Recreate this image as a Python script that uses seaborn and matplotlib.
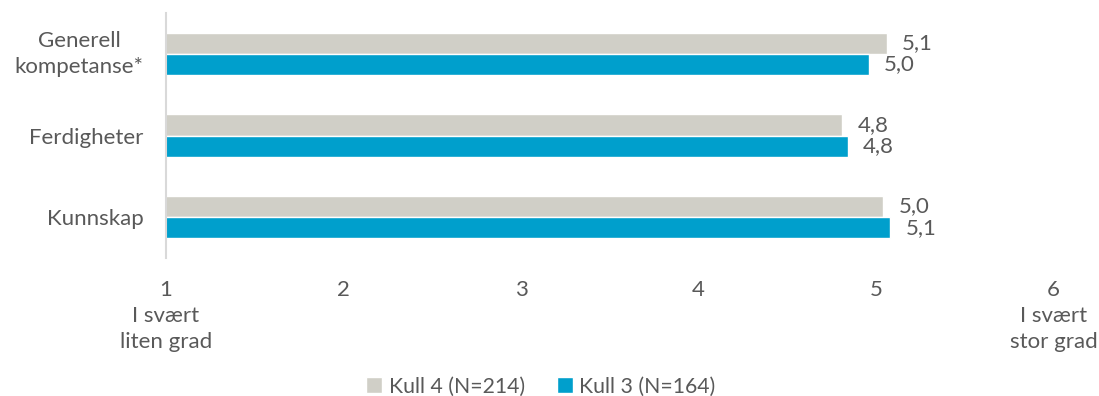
import matplotlib
matplotlib.use("Agg")
import matplotlib.pyplot as plt
import seaborn as sns
import pandas as pd

# Category and series data
categories = ["Generell\nkompetanse*", "Ferdigheter", "Kunnskap"]
series_names = ["Kull 4 (N=214)", "Kull 3 (N=164)"]
kull4_values = [5.06, 4.81, 5.04]
kull3_values = [4.96, 4.84, 5.08]
tick_values = [1, 2, 3, 4, 5, 6]
tick_labels = ["1\nI svært\nliten grad", "2", "3", "4", "5", "6\nI svært\nstor grad"]

colors = ["#D0CFC7", "#009FCC"]
text_color = "#595959"
fs = 16

df = pd.DataFrame({
    "kategori": categories * 2,
    "serie": [series_names[0]] * 3 + [series_names[1]] * 3,
    "verdi": kull4_values + kull3_values,
})

sns.set_theme(style="white")
plt.rcParams["font.family"] = ["Lato", "DejaVu Sans"]

fig = plt.figure(figsize=(10.99, 3.96), dpi=100)
ax = fig.add_axes([0.151, 0.3485, 0.8076, 0.6185])

sns.barplot(data=df, y="kategori", x="verdi", hue="serie", order=categories,
            hue_order=series_names, palette=colors, orient="h", width=0.52,
            saturation=1, ax=ax, legend=True)

for container in ax.containers:
    ax.bar_label(container, labels=[f"{v:.1f}".replace(".", ",") for v in container.datavalues],
                 padding=11, fontsize=fs, color=text_color)

ax.set_xlim(1, 6)
ax.set_ylim(2.5, -0.5)
ax.set_xticks(tick_values)
ax.set_xticklabels(tick_labels, fontsize=fs, color=text_color, linespacing=1.38)
ax.tick_params(axis="x", length=0, pad=16)
ax.tick_params(axis="y", length=0, pad=16, labelsize=fs, labelcolor=text_color)
for lbl in ax.get_yticklabels():
    lbl.set_multialignment("center")
    lbl.set_linespacing(1.42)
    if "\n" in lbl.get_text():
        lbl.set_verticalalignment("center")
ax.set_xlabel("")
ax.set_ylabel("")
for side in ["top", "right", "bottom"]:
    ax.spines[side].set_visible(False)
ax.spines["left"].set_color("#D9D9D9")
ax.spines["left"].set_linewidth(1.5)
ax.grid(False)

handles, labels = ax.get_legend_handles_labels()
ax.get_legend().remove()
fig.legend(handles, labels, loc="lower center", bbox_to_anchor=(0.492, -0.05), ncol=2,
           frameon=False, fontsize=15.3, handlelength=0.75, handleheight=0.75,
           handletextpad=0.3, columnspacing=1.5, labelcolor=text_color)

fig.savefig("out.png", dpi=100)
